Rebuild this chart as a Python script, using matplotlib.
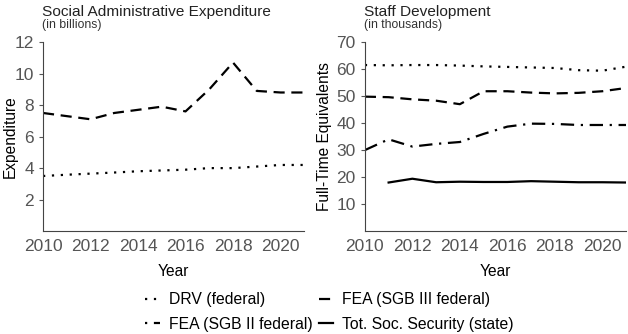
import matplotlib
matplotlib.use("Agg")
import matplotlib.pyplot as plt
from matplotlib.lines import Line2D

plt.rcParams['font.family'] = ['Liberation Sans', 'DejaVu Sans']

# ---------------- data ----------------
years = list(range(2010, 2022))

# left panel: expenditure in billions
exp_drv = [3.5, 3.58, 3.65, 3.72, 3.8, 3.85, 3.9, 4.0, 4.0, 4.1, 4.2, 4.2]
exp_sgb3 = [7.5, 7.3, 7.1, 7.5, 7.7, 7.9, 7.6, 9.0, 10.7, 8.9, 8.8, 8.8]

# right panel: staff in thousands
staff_drv = [61.5, 61.4, 61.5, 61.5, 61.3, 61.0, 60.8, 60.6, 60.4, 59.6, 59.4, 60.9]
staff_sgb3 = [49.8, 49.6, 48.8, 48.3, 47.0, 51.8, 51.8, 51.3, 51.0, 51.2, 51.8, 53.0]
staff_sgb2 = [30.0, 34.0, 31.3, 32.3, 33.0, 36.0, 38.7, 39.8, 39.7, 39.3, 39.3, 39.3]
staff_years_tot = list(range(2011, 2022))
staff_tot = [18.0, 19.4, 18.1, 18.3, 18.2, 18.2, 18.5, 18.3, 18.1, 18.1, 18.0]

labels = ["DRV (federal)", "FEA (SGB II federal)", "FEA (SGB III federal)", "Tot. Soc. Security (state)"]

tick_col = "#555555"
lw = 1.6
ls_dot = (0, (1, 3))
ls_dash = (0, (5, 3))
ls_dashdot = (0, (6, 3, 1, 3))

fig = plt.figure(figsize=(6.28, 3.34), dpi=100)
ax1 = fig.add_axes([0.0685, 0.308, 0.416, 0.566])
ax2 = fig.add_axes([0.581, 0.308, 0.416, 0.566])

ax1.plot(years, exp_drv, color="black", lw=lw, linestyle=ls_dot)
ax1.plot(years, exp_sgb3, color="black", lw=lw, linestyle=ls_dash)
ax1.set_ylim(0, 12)
ax1.set_yticks([2, 4, 6, 8, 10, 12])
ax1.set_ylabel("Expenditure", fontsize=11.2)
ax1.yaxis.set_label_coords(-0.097, 0.5)

ax2.plot(years, staff_drv, color="black", lw=lw, linestyle=ls_dot)
ax2.plot(years, staff_sgb3, color="black", lw=lw, linestyle=ls_dash)
ax2.plot(years, staff_sgb2, color="black", lw=lw, linestyle=ls_dashdot)
ax2.plot(staff_years_tot, staff_tot, color="black", lw=lw, linestyle="-")
ax2.set_ylim(0, 70)
ax2.set_yticks([10, 20, 30, 40, 50, 60, 70])
ax2.set_ylabel("Full-Time Equivalents", fontsize=11.2)
ax2.yaxis.set_label_coords(-0.125, 0.5)

titles = [(ax1, "Social Administrative Expenditure", "(in billions)", 0.0685),
          (ax2, "Staff Development", "(in thousands)", 0.5815)]
for ax, title, sub, x0 in titles:
    ax.set_xlim(2010, 2021)
    ax.set_xticks([2010, 2012, 2014, 2016, 2018, 2020])
    ax.set_xlabel("Year", fontsize=11.2, labelpad=7)
    for s in ["top", "right"]:
        ax.spines[s].set_visible(False)
    for s in ["left", "bottom"]:
        ax.spines[s].set_color("#444444")
        ax.spines[s].set_linewidth(0.8)
    ax.tick_params(labelsize=12.5, colors=tick_col, length=3, width=0.8)
    ax.tick_params(axis="x", length=0, pad=6)
    fig.text(x0 - 0.002, 1 - 16 / 334, title, fontsize=11.1, color="#222222", va="baseline")
    fig.text(x0 - 0.002, 1 - 28 / 334, sub, fontsize=8.8, color="#333333", va="baseline")

# legend proxies (dash-dot handle starts with the dot, as in the original)
handles = [Line2D([], [], color="black", lw=lw, linestyle=(0, (1, 3))),
           Line2D([], [], color="black", lw=lw, linestyle=(0, (1, 3, 6, 3))),
           Line2D([], [], color="black", lw=lw, linestyle=ls_dash),
           Line2D([], [], color="black", lw=lw, linestyle="-")]
fig.legend(handles, labels, ncol=2, loc="lower center",
           bbox_to_anchor=(0.525, -0.035), frameon=False, fontsize=11.3,
           handlelength=0.9, handletextpad=0.6, columnspacing=0.4, labelspacing=0.6)

fig.savefig("out.png", dpi=100)
